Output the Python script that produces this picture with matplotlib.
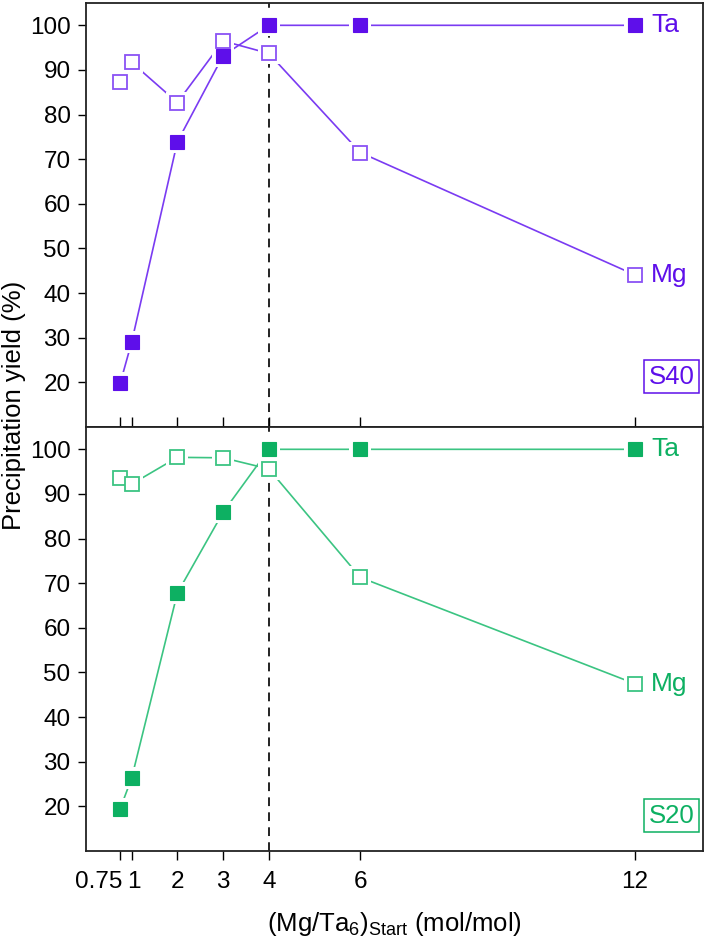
import matplotlib
matplotlib.use("Agg")
import matplotlib.pyplot as plt
import matplotlib.transforms as mtransforms

plt.rcParams['font.family'] = ['Liberation Sans', 'DejaVu Sans']
plt.rcParams['mathtext.fontset'] = 'custom'
plt.rcParams['mathtext.rm'] = 'Liberation Sans'
plt.rcParams['mathtext.it'] = 'Liberation Sans'

# ---- data ----
ratio = [0.75, 1, 2, 3, 4, 6, 12]
xtick_labels = ["0.75", "1", "2", "3", "4", "6", "12"]
yticks = [20, 30, 40, 50, 60, 70, 80, 90, 100]

s40_ta = [19.8, 29.0, 73.9, 93.2, 100.0, 100.0, 100.0]
s40_mg = [87.2, 91.7, 82.7, 96.5, 93.7, 71.5, 44.1]
s20_ta = [19.5, 26.3, 67.8, 85.9, 100.0, 100.0, 100.0]
s20_mg = [93.5, 92.2, 98.2, 98.1, 95.6, 71.3, 47.5]

panels = [
    ("S40", s40_ta, s40_mg, '#5E0FEA', '#7A3BF2', '#8A52F5'),
    ("S20", s20_ta, s20_mg, '#0DB062', '#3BC482', '#3BC482'),
]

W, H = 707, 938
fig = plt.figure(figsize=(W / 100, H / 100), dpi=100)
left, right = 85.9 / W, 703.3 / W
y_top, y_mid, y_bot = 1 - 3 / H, 1 - 427 / H, 1 - 851 / H
ax_top = fig.add_axes([left, y_mid, right - left, y_top - y_mid])
ax_bot = fig.add_axes([left, y_bot, right - left, y_mid - y_bot], sharex=ax_top)

msz = 10.3
halo = 15.5
box_y = {"S40": 0.09, "S20": 0.055}

for ax, (name, ta, mg, c_fill, c_line, c_open) in zip([ax_top, ax_bot], panels):
    ax.set_xlim(0, 13.5)
    ax.set_ylim(10, 105)
    ax.axvline(4, color='#222222', lw=1.4, ls=(0, (4.5, 3.2)), zorder=1)
    ax.plot(ratio, mg, '-', color=c_line, lw=1.2, zorder=2)
    ax.plot(ratio, ta, '-', color=c_line, lw=1.2, zorder=2)
    # white halos to create small gaps between lines and markers
    ax.plot(ratio, mg, 's', ls='none', ms=halo, color='white', mew=0, zorder=3)
    ax.plot(ratio, ta, 's', ls='none', ms=halo, color='white', mew=0, zorder=3)
    ax.plot(ratio, mg, 's', ls='none', ms=msz, mfc='white', mec=c_open, mew=1.3, zorder=4)
    ax.plot(ratio, ta, 's', ls='none', ms=msz, mfc=c_fill, mec=c_fill, mew=0.8, zorder=5)
    ax.annotate("Ta", (ratio[-1], ta[-1]), xytext=(12, 0), textcoords='offset points',
                ha='left', va='center', fontsize=19, color=c_fill)
    ax.annotate("Mg", (ratio[-1], mg[-1]), xytext=(12, 0), textcoords='offset points',
                ha='left', va='center', fontsize=19, color=c_fill)
    ax.text(0.986, box_y[name], name, transform=ax.transAxes, ha='right', va='bottom',
            fontsize=18.5, color=c_fill,
            bbox=dict(boxstyle='square,pad=0.18', fc='white', ec=c_fill, lw=1.1))
    ax.set_yticks(yticks)
    ax.tick_params(axis='y', direction='out', length=6, width=1.0, labelsize=17.5,
                   right=False, pad=5)
    for sp in ax.spines.values():
        sp.set_linewidth(1.3)
        sp.set_color('#222222')

ax_top.set_xticks(ratio)
ax_top.tick_params(axis='x', direction='inout', length=14, width=1.0,
                   labelbottom=False, top=False)
ax_bot.tick_params(axis='x', direction='out', length=6.5, width=1.0, labelsize=17.5, pad=8)
ax_bot.set_xticks(ratio)
ax_bot.set_xticklabels(xtick_labels)
lbls = ax_bot.get_xticklabels()
lbls[0].set_ha('right')
lbls[0].set_transform(lbls[0].get_transform() +
                      mtransforms.ScaledTranslation(2 / 100, 0, fig.dpi_scale_trans))
lbls[1].set_transform(lbls[1].get_transform() +
                      mtransforms.ScaledTranslation(2 / 100, 0, fig.dpi_scale_trans))
ax_bot.set_xlabel(r"(Mg/Ta$_{6}$)$_{\mathrm{Start}}$ (mol/mol)", fontsize=18.5, labelpad=12)

fig.text(14 / W, 1 - 405 / H, "Precipitation yield (%)", rotation=90, ha='center',
         va='center', fontsize=18.5)

fig.savefig("out.png", dpi=100)
